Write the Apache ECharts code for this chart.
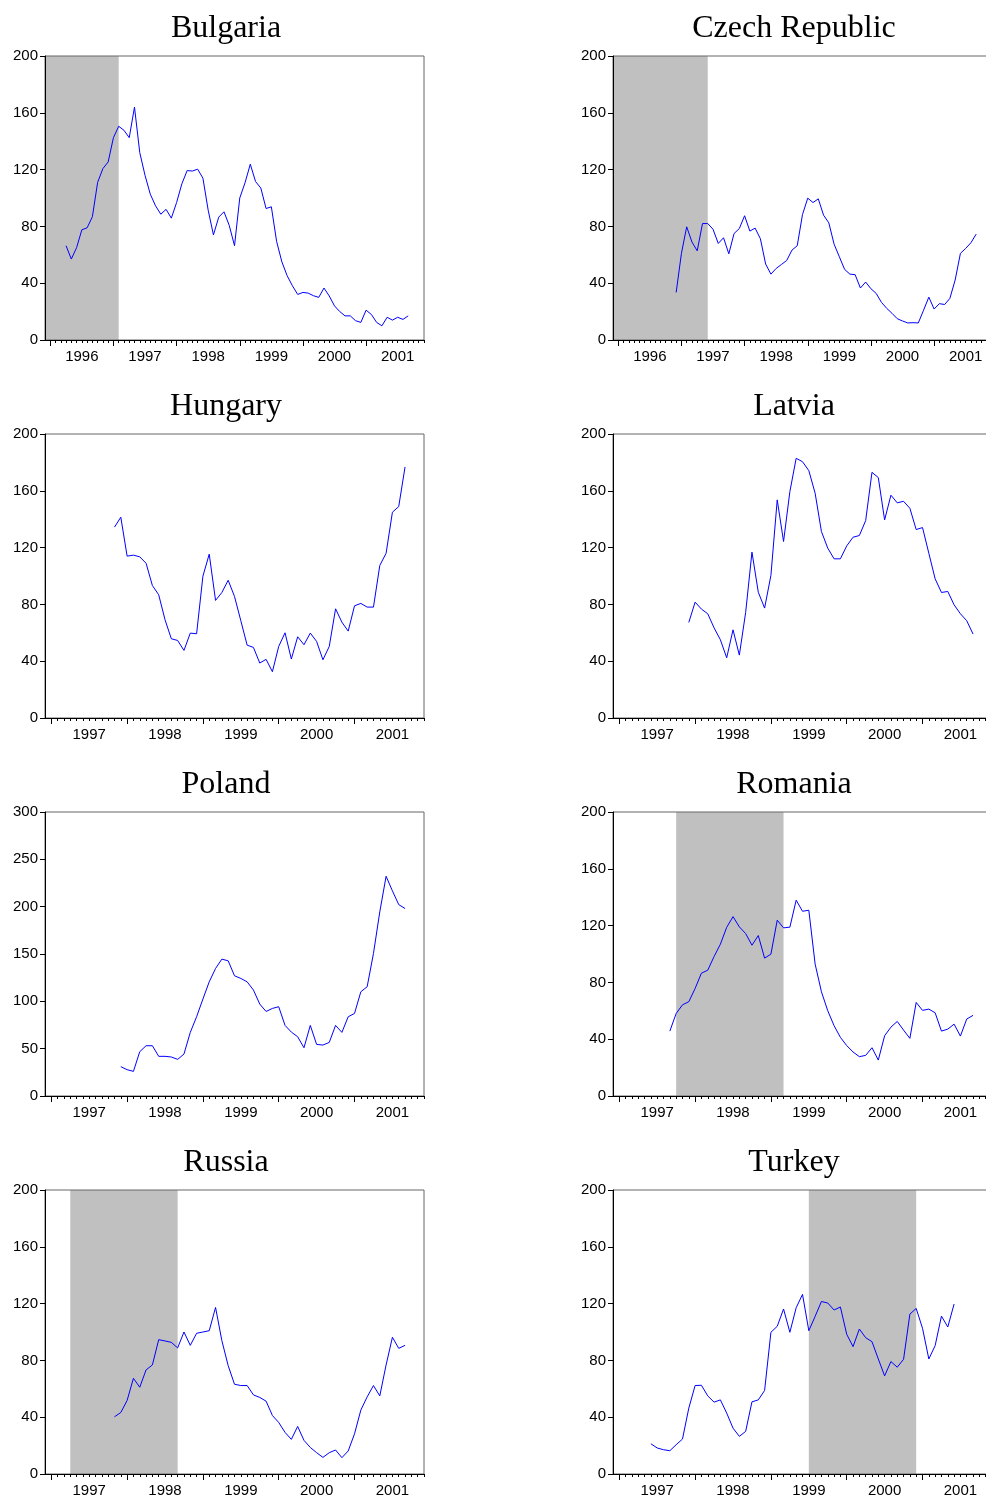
<!DOCTYPE html>
<html><head><meta charset="utf-8">
<style>html,body{margin:0;padding:0;background:#fff}#c{width:986px;height:1499px}</style>
<script src="https://cdn.jsdelivr.net/npm/echarts@6/dist/echarts.min.js"></script>
</head><body><div id="c"></div>
<script>
// ---- data (monthly observations) ----
const countries = ['Bulgaria','Czech Republic','Hungary','Latvia','Poland','Romania','Russia','Turkey'];

const bulgariaStart = '1996-04';
const bulgaria = [66.4,57,65,77.6,79,86.8,111,120.7,125.4,142.5,150.5,147.7,142.5,164,132,116,102.7,94.5,88.6,92,85.8,96.8,110,119.3,119,120.3,114,91.4,74,86.5,90.3,80.7,66.4,100,110.7,123.8,111.6,107,92.6,93.8,69.4,55,45.3,38.2,32.1,33.5,33,31.2,30,36.6,31,24,20,17,17,13.6,12.4,21,18,12.4,10,16,14,16,14.5,17];

const czechStart = '1996-12';
const czech = [33.5,61,79.7,69,62.8,82,82,78,68,72,60.7,75,78.5,87.5,76.7,78.8,71.3,53.5,46.4,50.4,53.2,56,63.3,66.4,88.4,99.9,96.8,99.4,87.9,82.5,67.5,58.6,49.7,46.4,46,36.6,40.8,36.1,32.8,26.5,22.3,18.8,15,13.4,12,12.2,12,21,30.2,21.8,25.6,25,29.3,42.2,61,64.5,68.5,74.6];

const hungaryStart = '1997-11';
const hungary = [134.4,141.4,114,114.7,113.5,109,93.3,86.8,69.2,55.8,54.6,47.6,59.8,59.3,99.9,115.4,82.8,88.4,97,85.6,68.5,51.3,49.7,38.7,41.3,32.6,50.4,60,41.5,57.2,51.6,59.8,53.9,41,50.4,76.9,67.5,61.2,79,80.7,78.1,78.1,107.4,116,144.9,148.9,176.8];

const latviaStart = '1997-12';
const latvia = [67.3,81.6,76.7,73.4,63.5,55.1,42.4,62.1,44.3,74.3,116.8,88.6,77.4,100.4,153.6,124.3,159.4,182.9,180.5,174.2,158.3,131.3,119.6,112.1,112.1,121.2,127.3,128.5,139,173,169.3,139.5,156.9,151.5,152.6,147.7,132.7,134.1,116,98,88.4,89.1,79.7,73.4,68.5,59.1];

const polandStart = '1997-12';
const poland = [31,27.8,26,46.8,53.1,53.1,41.9,41.9,41.2,38.7,44.3,67.2,83.7,102.4,120.6,134.7,144.6,142.8,127,124.2,120.6,111.9,97.1,89.3,92.5,94.3,74.6,67.5,62.6,51,74.6,54.5,53.8,56.6,74.6,67.2,83.7,87.2,110.1,115.4,150.5,194.5,232.1,216.7,202.2,198];

const romaniaStart = '1997-09';
const romania = [45.7,58.1,64.2,66.4,75.7,86.5,88.6,98.2,106.9,118.8,126.3,119.1,114.4,106.2,113,97.1,99.9,123.8,118.4,118.9,137.9,130.1,130.8,92.9,73.4,60,49.5,41.3,35.5,31,27.7,28.6,34,25.3,42.4,48.5,52.5,46.4,40.6,65.9,60.3,61.2,58.6,45.7,47.1,50.6,42.2,54.2,56.8];

const russiaStart = '1997-11';
const russia = [40.3,43.3,51.8,67.4,61.1,73.3,76.8,94.6,93.7,92.7,88.8,100,90.6,99.1,100,100.9,117.3,93.9,76.3,63.2,62.3,62.3,55.7,53.9,51.3,41.2,36.3,29.3,24.4,33.5,23.7,18.7,15,11.7,15,16.9,11.5,16.2,28.3,45,54.3,62.3,55,76.8,96.3,88.5,90.6];

const turkeyStart = '1997-06';
const turkey = [21.3,18.3,17.1,16.4,20.6,24.6,46.4,62.3,62.5,55,50.6,52.2,42.9,32.3,26.5,30,50.8,52.2,58.8,99.8,104,116.2,99.8,117.1,126.5,100.9,111,121.5,120.4,115.5,117.6,98.4,89.7,102.1,96,93.2,81,69.1,79.2,75.2,80.8,112.6,116.6,102.6,81,90.4,111.2,103.5,119.7];

// shaded periods [from, to]
const bulgariaShade = ['1995-12','1997-02'];
const czechShade    = ['1995-12','1997-06'];
const romaniaShade  = ['1997-10','1999-03'];
const russiaShade   = ['1997-04','1998-09'];
const turkeyShade   = ['1999-07','2000-12'];

// axis ranges and tick labels
const rangeFrom1996 = ['1995-12','2001-12'];
const rangeFrom1997 = ['1996-12','2001-12'];
const years1996 = ['1996','1997','1998','1999','2000','2001'];
const years1997 = ['1997','1998','1999','2000','2001'];
const yTicks200 = [0,40,80,120,160,200];
const yTicks300 = [0,50,100,150,200,250,300];

// ---- build ----
function mi(s){const p=s.split('-').map(Number);return (p[0]-1996)*12+(p[1]-1);}
const panelDefs = [
  [bulgaria,bulgariaStart,rangeFrom1996,years1996,yTicks200,bulgariaShade],
  [czech,czechStart,rangeFrom1996,years1996,yTicks200,czechShade],
  [hungary,hungaryStart,rangeFrom1997,years1997,yTicks200,null],
  [latvia,latviaStart,rangeFrom1997,years1997,yTicks200,null],
  [poland,polandStart,rangeFrom1997,years1997,yTicks300,null],
  [romania,romaniaStart,rangeFrom1997,years1997,yTicks200,romaniaShade],
  [russia,russiaStart,rangeFrom1997,years1997,yTicks200,russiaShade],
  [turkey,turkeyStart,rangeFrom1997,years1997,yTicks200,turkeyShade]
];
const rowTops = [56,434,812,1190];
const grid=[],xAxis=[],yAxis=[],series=[],graphic=[];
const labelFont = '"Liberation Sans", Arial, sans-serif';
panelDefs.forEach((p,i)=>{
  const [vals,start,range,years,yt,shade] = p;
  const col=i%2,row=Math.floor(i/2);
  const left = col?613:45, top=rowTops[row];
  grid.push({left:left,top:top,width:379,height:284,show:true,borderColor:'#666',borderWidth:1,
    backgroundColor:'transparent',containLabel:false,outerBoundsMode:'none'});
  const xmin=mi(range[0]), xmax=mi(range[1]);
  const majors=[], months=[];
  for(let m=xmin+1;m<=xmax;m++){months.push(m); if(m%12===0) majors.push(m);}
  const mids = years.map(y=>mi(y+'-07'));
  xAxis.push({gridIndex:i,type:'value',min:xmin,max:xmax,position:'bottom',z:3,
    axisLine:{show:true,onZero:false,lineStyle:{color:'#000',width:1}},
    axisTick:{show:true,length:6,customValues:majors,lineStyle:{color:'#000',width:1}},
    axisLabel:{show:true,customValues:mids,formatter:v=>String(1996+Math.floor(v/12)),color:'#000',fontSize:15,fontFamily:labelFont,margin:9},
    splitLine:{show:false}});
  xAxis.push({gridIndex:i,type:'value',min:xmin,max:xmax,position:'bottom',z:3,
    axisLine:{show:false,onZero:false},
    axisTick:{show:true,length:3,customValues:months,lineStyle:{color:'#000',width:1}},
    axisLabel:{show:false},splitLine:{show:false}});
  const ymin=yt[0], ymax=yt[yt.length-1];
  yAxis.push({gridIndex:i,type:'value',min:ymin,max:ymax,interval:yt[1]-yt[0],z:3,position:'left',
    axisLine:{show:true,onZero:false,lineStyle:{color:'#000',width:1}},
    axisTick:{show:true,length:5,lineStyle:{color:'#000',width:1}},
    axisLabel:{color:'#000',fontSize:15,fontFamily:labelFont,margin:7},
    splitLine:{show:false}});
  if(shade){
    series.push({type:'custom',xAxisIndex:i*2,yAxisIndex:i,z:-1,silent:true,animation:false,
      data:[[mi(shade[0]),mi(shade[1])]],encode:{x:[0,1]},
      renderItem:(params,api)=>{
        const a=api.coord([api.value(0),ymax]), b=api.coord([api.value(1),ymin]);
        return {type:'rect',shape:{x:a[0],y:a[1],width:b[0]-a[0],height:b[1]-a[1]},style:{fill:'#c0c0c0'}};
      }});
  }
  const s0=mi(start);
  series.push({type:'line',xAxisIndex:i*2,yAxisIndex:i,data:vals.map((v,k)=>[s0+k,v]),
    symbol:'none',showSymbol:false,silent:true,animation:false,z:2,
    lineStyle:{color:'#0000ff',width:1},itemStyle:{color:'#0000ff'}});
  graphic.push({type:'text',x:col?794:226,y:top-27,silent:true,
    style:{text:countries[i],font:'32px "Liberation Serif", "Times New Roman", serif',fill:'#000',textAlign:'center',textVerticalAlign:'middle'}});
});
const chart = echarts.init(document.getElementById('c'),null,{renderer:'canvas'});
chart.setOption({animation:false,backgroundColor:'#fff',grid,xAxis,yAxis,series,graphic});
</script></body></html>
